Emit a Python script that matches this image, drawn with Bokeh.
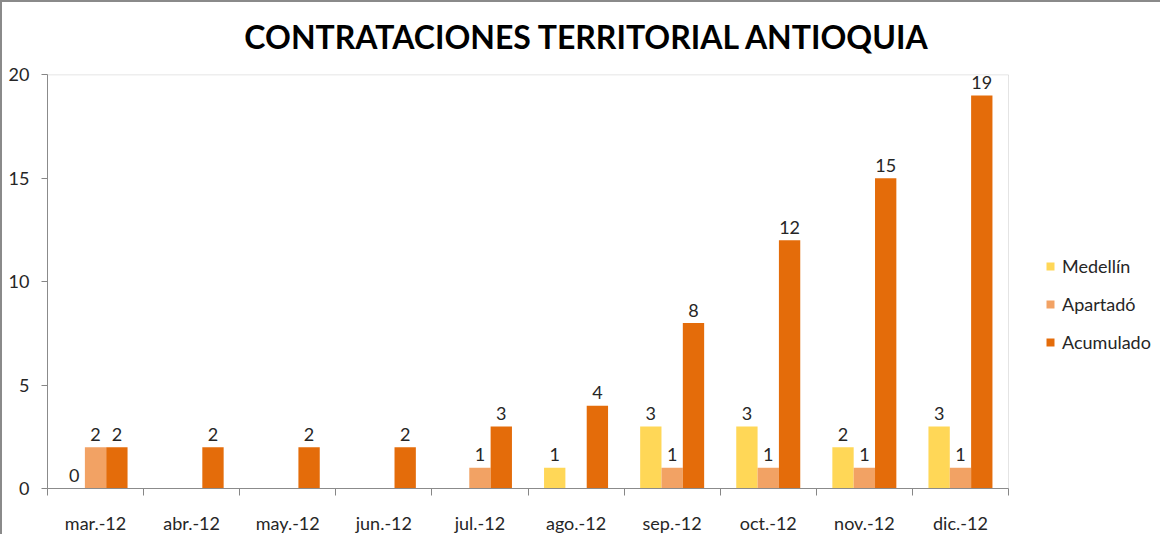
import numpy as np
from bokeh.plotting import figure
from bokeh.models import (ColumnDataSource, Range1d, FixedTicker, Legend, LegendItem,
                          Label, BoxAnnotation)
from bokeh.transform import dodge
from bokeh.core.properties import value
from bokeh.embed import file_html
from bokeh.resources import INLINE

# ---------------- data ----------------
months = ["mar.-12", "abr.-12", "may.-12", "jun.-12", "jul.-12",
          "ago.-12", "sep.-12", "oct.-12", "nov.-12", "dic.-12"]
medellin = [0, None, None, None, None, 1, 3, 3, 2, 3]
apartado = [2, None, None, None, 1, None, 1, 1, 1, 1]
acumulado = [2, 2, 2, 2, 3, 4, 8, 12, 15, 19]
series_names = ["Medellín", "Apartadó", "Acumulado"]
series_colors = ["#FFD757", "#F2A264", "#E46C0A"]
y_ticks = [0, 5, 10, 15, 20]
title_text = "CONTRATACIONES TERRITORIAL ANTIOQUIA"

FONT = "Lato"
TXT = "#262626"
AX = "#868686"

# ---------------- layout (pixels) ----------------
W, H = 1160, 534
LEFT, BOTTOM = 45, 37            # canvas borders
PLOT_W, PLOT_H = 961, 423        # size of the bar area inside the frame
frame_w = W - LEFT
frame_h = H - BOTTOM
n = len(months)
ymax = y_ticks[-1]
x_end = n * frame_w / PLOT_W
y_end = ymax * frame_h / PLOT_H

def arr(v):
    return np.array([np.nan if a is None else a for a in v], dtype=float)

def lab(v):
    return ["" if a is None else str(a) for a in v]

xpos = [i + 0.5 for i in range(n)]
src = ColumnDataSource(dict(
    x=xpos,
    med=arr(medellin), apa=arr(apartado), acu=arr(acumulado),
    med_l=lab(medellin), apa_l=lab(apartado), acu_l=lab(acumulado),
))

p = figure(width=W, height=H, output_backend="svg", toolbar_location=None,
           x_range=Range1d(0, x_end), y_range=Range1d(0, y_end),
           min_border_left=LEFT, min_border_right=0, min_border_top=0, min_border_bottom=BOTTOM)
p.styles = {"border-top": "2px solid #8a8a8a", "border-left": "2px solid #8a8a8a"}
p.xgrid.visible = False
p.ygrid.visible = False
p.outline_line_color = None
p.background_fill_color = "white"
p.border_fill_color = "white"

# plot-area border (top and right edges)
p.add_layout(BoxAnnotation(left=0, right=n, bottom=0, top=ymax, fill_alpha=0,
                           line_color="#A6A6A6", line_width=1))

bw = 0.222
offs = [-bw, 0.0, bw]
cols = ["med", "apa", "acu"]
renderers = []
for c, o, col in zip(cols, offs, series_colors):
    r = p.vbar(x=dodge("x", o, range=p.x_range), top=c, width=bw, bottom=0,
               source=src, fill_color=col, line_color=None)
    renderers.append(r)
    p.text(x=dodge("x", o, range=p.x_range), y=c, text=c + "_l", source=src,
           text_align="center", text_baseline="alphabetic", y_offset=-13,
           text_font=value(FONT), text_font_size="18px", text_color=TXT)

# axes
xa = p.xaxis[0]
xa.bounds = (0, n)
xa.ticker = FixedTicker(ticks=xpos, minor_ticks=list(range(n + 1)))
xa.major_label_overrides = {x: m for x, m in zip(xpos, months)}
xa.major_tick_line_color = None
xa.major_tick_out = 0
xa.major_tick_in = 0
xa.minor_tick_line_color = AX
xa.minor_tick_out = 7
xa.minor_tick_in = 0
xa.axis_line_color = AX
xa.major_label_text_font = FONT
xa.major_label_text_font_size = "18px"
xa.major_label_text_color = TXT
xa.major_label_standoff = 16

ya = p.yaxis[0]
ya.bounds = (0, ymax)
ya.ticker = FixedTicker(ticks=y_ticks)
ya.minor_tick_line_color = None
ya.major_tick_line_color = AX
ya.major_tick_out = 6
ya.major_tick_in = 0
ya.axis_line_color = AX
ya.major_label_text_font = FONT
ya.major_label_text_font_size = "18px"
ya.major_label_text_color = TXT
ya.major_label_standoff = 12

# title
p.add_layout(Label(x=540, y=frame_h - 45, x_units="screen", y_units="screen", text=title_text,
                   text_align="center", text_baseline="alphabetic",
                   text_font=FONT, text_font_size="32px", text_font_style="bold",
                   text_color="black"))

# legend
legend = Legend(items=[LegendItem(label=nm, renderers=[r]) for nm, r in zip(series_names, renderers)],
                location=(998, 135), orientation="vertical",
                glyph_width=10, glyph_height=10, label_height=22, spacing=16,
                label_standoff=7, padding=0, margin=0, border_line_color=None,
                background_fill_alpha=0,
                label_text_font=FONT, label_text_font_size="18px", label_text_color=TXT)
p.add_layout(legend, "center")

open("out.html", "w").write(file_html(p, INLINE))
